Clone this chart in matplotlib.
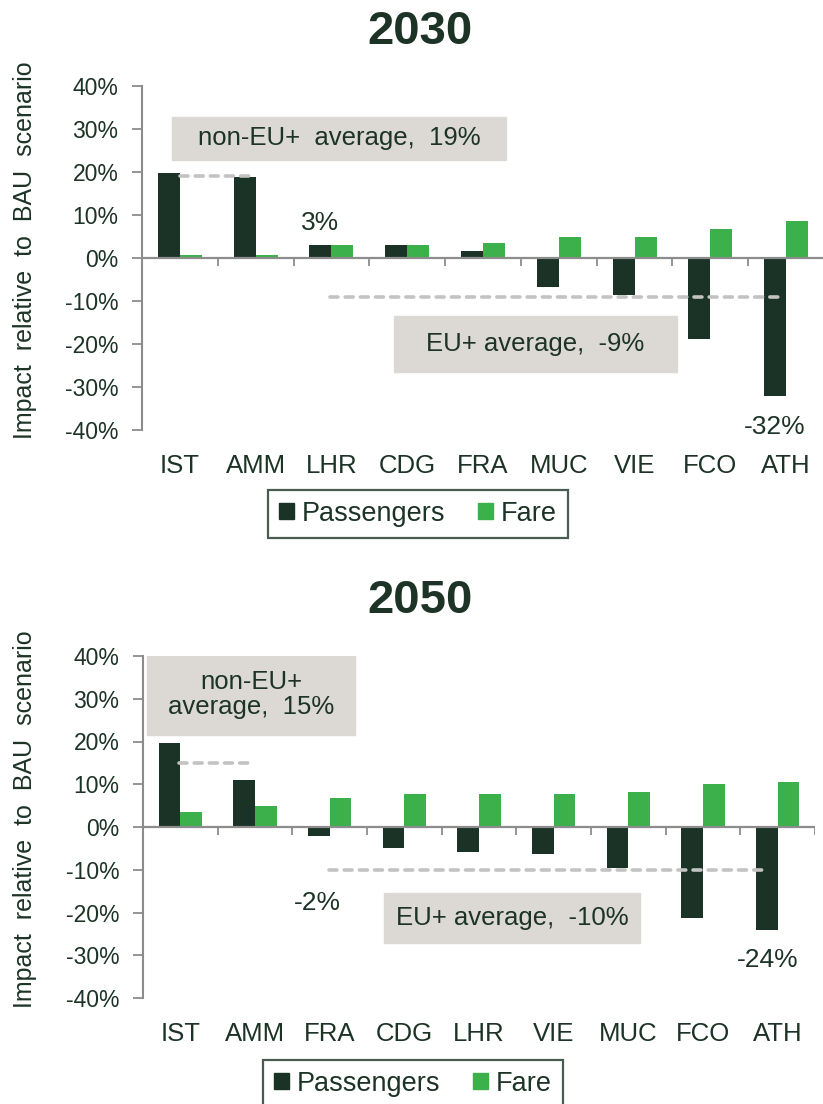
import numpy as np
import matplotlib
matplotlib.use("Agg")
import matplotlib.pyplot as plt
from matplotlib.patches import Patch

plt.rcParams['font.family'] = ['Liberation Sans', 'DejaVu Sans']
NARROW = ['Liberation Sans Narrow', 'Liberation Sans', 'DejaVu Sans']

# 2030 scenario
airports_2030 = ['IST', 'AMM', 'LHR', 'CDG', 'FRA', 'MUC', 'VIE', 'FCO', 'ATH']
passengers_2030 = [19.7, 18.8, 3.0, 3.0, 1.6, -6.8, -8.7, -18.9, -32.0]
fare_2030 = [0.6, 0.6, 3.0, 3.0, 3.4, 4.8, 4.8, 6.7, 8.6]
non_eu_avg_2030 = 19
eu_avg_2030 = -9

# 2050 scenario
airports_2050 = ['IST', 'AMM', 'FRA', 'CDG', 'LHR', 'VIE', 'MUC', 'FCO', 'ATH']
passengers_2050 = [19.7, 10.9, -2.0, -4.9, -5.9, -6.3, -9.7, -21.3, -24.0]
fare_2050 = [3.4, 4.9, 6.7, 7.7, 7.7, 7.7, 8.1, 10.0, 10.5]
non_eu_avg_2050 = 15
eu_avg_2050 = -10

DARK = '#1b3326'
GREEN = '#3cb04a'
GREY = '#8c8c8c'
BOX = '#dcd8d3'
DASH = '#c3c3c3'
TXT = '#1c3326'

fig = plt.figure(figsize=(8.23, 11.04), dpi=100)


def draw_panel(ax, labels, pax, fare, non_eu, eu, non_eu_span, eu_span):
    x = np.arange(len(labels))
    w = 0.29
    ax.bar(x - w / 2, pax, w, color=DARK, zorder=3)
    ax.bar(x + w / 2, fare, w, color=GREEN, zorder=3)

    ax.set_xlim(-0.5, len(labels) - 0.5)
    ax.set_ylim(-40, 40)
    ax.set_yticks(np.arange(-40, 41, 10))
    ax.set_yticklabels([f'{v}%' for v in range(-40, 41, 10)])
    ax.tick_params(axis='y', direction='out', length=7, width=1.3, color=GREY,
                   labelsize=16.5, labelcolor=TXT, pad=10)
    ax.set_xticks(x)
    ax.set_xticklabels(labels)
    ax.tick_params(axis='x', length=0, labelsize=18.5, labelcolor=TXT, pad=17)

    for s in ['top', 'right', 'bottom']:
        ax.spines[s].set_visible(False)
    ax.spines['left'].set_color(GREY)
    ax.spines['left'].set_linewidth(1.5)

    # category axis sits on the zero line
    ax.axhline(0, color=GREY, lw=1.6, zorder=4)
    ax.vlines(np.arange(0.5, len(labels)), -1.8, 0, color=GREY, lw=1.3, zorder=4)

    # averages
    ax.plot(non_eu_span, [non_eu, non_eu], color=DASH, lw=2.6, dashes=(2.2, 2.0),
            dash_capstyle='round', zorder=5)
    ax.plot(eu_span, [eu, eu], color=DASH, lw=2.6, dashes=(2.2, 2.0),
            dash_capstyle='round', zorder=5)
    return x


# --- 2030 ---
ax1 = fig.add_axes([142 / 823, 1 - 430 / 1104, 682 / 823, 344 / 1104])
x1 = draw_panel(ax1, airports_2030, passengers_2030, fare_2030,
                non_eu_avg_2030, eu_avg_2030, [0.0, 0.97], [1.98, 7.98])
ax1.add_patch(plt.Rectangle((-0.11, 22.8), 4.42, 10.1, color=BOX, zorder=2))
ax1.text(2.10, 27.8, f'non-EU+  average,  {non_eu_avg_2030}%', ha='center', va='center',
         fontsize=18.5, color=TXT, family=NARROW, zorder=6)
ax1.add_patch(plt.Rectangle((2.82, -26.5), 3.74, 13.0, color=BOX, zorder=2))
ax1.text(4.69, -20.0, f'EU+ average,  {eu_avg_2030}%', ha='center', va='center',
         fontsize=18.5, color=TXT, family=NARROW, zorder=6)
ax1.text(x1[2] - 0.145, passengers_2030[2] + 2.4, f'{passengers_2030[2]:.0f}%', ha='center',
         va='bottom', fontsize=19, color=TXT, family=NARROW)
ax1.text(x1[8] - 0.145, passengers_2030[8] - 4.4, f'{passengers_2030[8]:.0f}%', ha='center',
         va='top', fontsize=19, color=TXT, family=NARROW)

# --- 2050 ---
ax2 = fig.add_axes([143 / 823, 1 - 998 / 1104, 672 / 823, 342 / 1104])
x2 = draw_panel(ax2, airports_2050, passengers_2050, fare_2050,
                non_eu_avg_2050, eu_avg_2050, [-0.02, 0.97], [1.99, 7.87])
ax2.add_patch(plt.Rectangle((-0.44, 21.5), 2.78, 18.8, color=BOX, zorder=2))
ax2.text(0.95, 30.9, f'non-EU+\naverage,  {non_eu_avg_2050}%', ha='center', va='center',
         fontsize=18.5, color=TXT, family=NARROW, linespacing=1.05, zorder=6)
ax2.add_patch(plt.Rectangle((2.73, -27.2), 3.42, 11.8, color=BOX, zorder=2))
ax2.text(4.44, -21.3, f'EU+ average,  {eu_avg_2050}%', ha='center', va='center',
         fontsize=18.5, color=TXT, family=NARROW, zorder=6)
ax2.text(x2[2] - 0.16, -17.8, f'{passengers_2050[2]:.0f}%', ha='center',
         va='center', fontsize=19, color=TXT, family=NARROW)
ax2.text(x2[8] - 0.14, -31.1, f'{passengers_2050[8]:.0f}%', ha='center',
         va='center', fontsize=19, color=TXT, family=NARROW)

# titles and axis labels
fig.text(0.51, 1 - 32 / 1104, '2030', ha='center', va='center', fontsize=34,
         fontweight='bold', color=TXT, family=NARROW)
fig.text(0.51, 1 - 601 / 1104, '2050', ha='center', va='center', fontsize=34,
         fontweight='bold', color=TXT, family=NARROW)
for yc in (250, 819):
    fig.text(25 / 823, 1 - yc / 1104, 'Impact  relative  to  BAU  scenario', rotation=90,
             ha='center', va='center', fontsize=18, color=TXT)

handles = [Patch(color=DARK, label='Passengers'), Patch(color=GREEN, label='Fare')]
for top, left in ((490, 268), (1060, 263)):
    leg = fig.legend(handles=handles, loc='upper left',
                     bbox_to_anchor=(left / 823, 1 - top / 1104), ncol=2,
                     fontsize=19.5, frameon=True, fancybox=False, handlelength=0.55,
                     handleheight=0.55, handletextpad=0.3, columnspacing=1.2,
                     borderpad=0.4, borderaxespad=0, labelcolor=TXT)
    leg.get_frame().set_edgecolor(DARK)
    leg.get_frame().set_linewidth(1.6)

fig.savefig('out.png', dpi=100)
